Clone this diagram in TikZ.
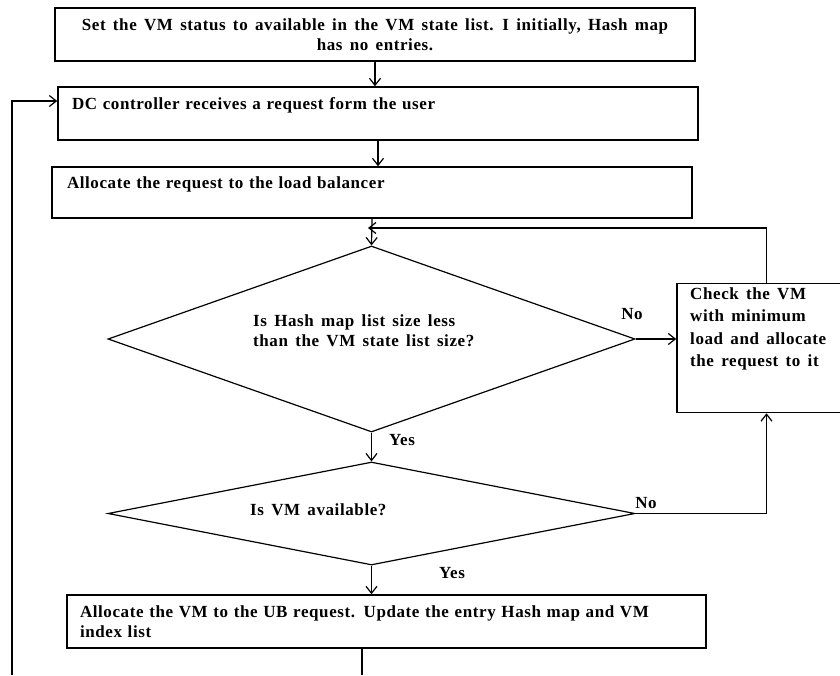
\documentclass[tikz,border=0pt]{standalone}
\usepackage{fontspec}
\setmainfont{Liberation Serif}[LetterSpace=3.5,WordSpace=1.5]
\usetikzlibrary{shapes.geometric,arrows.meta}
\begin{document}
\begin{tikzpicture}[x=1pt,y=-1pt,
	every node/.style={font=\bfseries\fontsize{17}{20}\selectfont},
	box/.style={draw,line width=1.5pt,inner sep=0pt},
	dec/.style={draw,diamond,line width=1.2pt,inner sep=0pt},
	line/.style={line width=1.2pt},
	arr/.style={line,-{Straight Barb[length=7pt,width=11pt]}}]
	\useasboundingbox (0,0) rectangle (840,675);
	\node[box,minimum width=640,minimum height=53,align=center] (init) at (375,34.5) {Set the VM status to available in the VM state list. I initially, Hash map\\has no entries.};
	\node[box,minimum width=640,minimum height=53,text width=612,align=left] (recv) at (378,113.5) {DC controller receives a request form the user\\~};
	\node[box,minimum width=640,minimum height=51,text width=610,align=left] (alloc) at (372,192.5) {Allocate the request to the load balancer\\~};
	\node[dec,minimum width=527,minimum height=186] (hash) at (371.5,339) {};
	\node[anchor=west,align=left,inner sep=0pt] (hashq) at (253,331) {Is Hash map list size less\\than the VM state list size?};
	\node[dec,minimum width=527,minimum height=103] (avail) at (371.5,513.5) {};
	\node[anchor=west,inner sep=0pt] (availq) at (250,510) {Is VM available?};
	\node[box,minimum width=179,minimum height=129] (chk) at (766.5,348) {};
	\node[anchor=north west,align=left,inner sep=0pt,font=\bfseries\fontsize{17}{22.5}\selectfont] (chktext) at (690,287) {Check the VM\\with minimum\\load and allocate\\the request to it};
	\node[box,minimum width=639,minimum height=53,text width=613,align=left] (act) at (386.5,621.5) {Allocate the VM to the UB request. Update the entry Hash map and VM\\index list};
	\node (no1) at (632,314) {No};
	\node (yes1) at (402,440) {Yes};
	\node (no2) at (646,503) {No};
	\node (yes2) at (452,573) {Yes};
	\coordinate (join) at (368,228);
	\coordinate (out) at (362,675);
	\coordinate (back) at (12,675);
	\draw[arr] (init.south) -- (init.south |- recv.north);
	\draw[arr] (recv.south) -- (recv.south |- alloc.north);
	\draw[arr] (alloc.south) -- (hash.north);
	\draw[arr] (chk.north) |- (join);
	\draw[arr] (hash.east) -- (hash.east -| chk.west);
	\draw[arr] (hash.south) -- (avail.north);
	\draw[arr] (avail.east) -| (chk.south);
	\draw[arr] (avail.south) -- (avail.south |- act.north);
	\draw[line] (act.south -| out) -- (out);
	\draw[arr] (back) |- ([yshift=12.5pt]recv.west);
\end{tikzpicture}
\end{document}
